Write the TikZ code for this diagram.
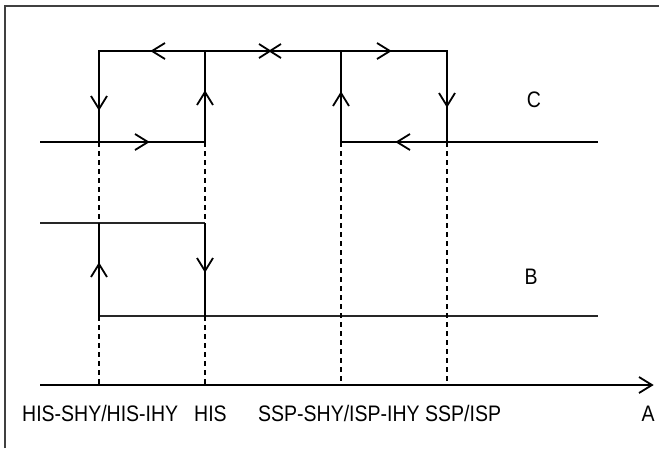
\documentclass[tikz,border=0pt]{standalone}
\usepackage{fontspec}
\usepackage{graphicx}
\setmainfont{Liberation Sans}
% labels are set slightly taller than wide
\newcommand{\tallt}[1]{\scalebox{1}[1.15]{#1}}
\begin{document}
\begin{tikzpicture}[x=1pt,y=-1pt,
  trace/.style={line width=2pt,black},
  thintrace/.style={line width=1.7pt,black!85},
  guide/.style={line width=1.3pt,dash pattern=on 5pt off 4pt},
  frameline/.style={line width=1.6pt,black!75},
  lbl/.style={font=\fontsize{19.5}{21}\selectfont,inner sep=0pt},
  chevR/.pic={\draw[line width=1.8pt] (-13,-8) -- (0,0) -- (-13,8);},
  chevL/.pic={\draw[line width=1.8pt] (13,-8) -- (0,0) -- (13,8);},
  chevU/.pic={\draw[line width=1.8pt] (-8,13) -- (0,0) -- (8,13);},
  chevD/.pic={\draw[line width=1.8pt] (-8,-13) -- (0,0) -- (8,-13);},
  crossmark/.pic={\draw[line width=1.8pt] (-11,-7) -- (11,7) (-11,7) -- (11,-7);}]
\useasboundingbox (0,0) rectangle (659,448);
\fill[white] (0,0) rectangle (659,448);
% frame (top and left edges)
\draw[frameline] (5,448) -- (5,6) -- (659,6);

% threshold positions
\coordinate (p1) at (99,0);
\coordinate (p2) at (205,0);
\coordinate (p3) at (341,0);
\coordinate (p4) at (447,0);

% C levels
\coordinate (cTop) at (0,51);
\coordinate (cLow) at (0,142);
% B levels
\coordinate (bHi) at (0,223);
\coordinate (bLo) at (0,316);
% axis
\coordinate (ax0) at (40,385);
\coordinate (ax1) at (652,385);

% ---- C hysteresis loops ----
\draw[trace] (40,142) -- (p2|-cLow) -- (p2|-cTop);
\draw[trace] (p1|-cLow) -- (p1|-cTop) -- (p4|-cTop) -- (p4|-cLow) -- (598,142);
\draw[trace] (p3|-cTop) -- (p3|-cLow) -- (p4|-cLow);
\pic at (152,51) {chevL};
\pic at (270,51) {crossmark};
\pic at (390,51) {chevR};
\pic at (99,109) {chevD};
\pic at (205,92) {chevU};
\pic at (148,142) {chevR};
\pic at (341,93) {chevU};
\pic at (447,106) {chevD};
\pic at (397,142) {chevL};
\node[lbl,anchor=base] (labC) at (534,107) {\tallt{C}};

% ---- B switching ----
\draw[thintrace] (40,223) -- (p2|-bHi);
\draw[thintrace] (p1|-bLo) -- (598,316);
\draw[trace] (p1|-bLo) -- (p1|-bHi);
\draw[trace] (p2|-bHi) -- (p2|-bLo);
\pic at (99,264) {chevU};
\pic at (205,271) {chevD};
\node[lbl,anchor=base] (labB) at (531,284) {\tallt{B}};

% ---- dashed guides down to the axis ----
\draw[guide] (p1|-cLow) -- (p1|-bHi) (p1|-bLo) -- (p1|-ax0);
\draw[guide] (p2|-cLow) -- (p2|-bHi) (p2|-bLo) -- (p2|-ax0);
\draw[guide] (p3|-cLow) -- (p3|-ax0);
\draw[guide] (p4|-cLow) -- (p4|-ax0);

% ---- axis ----
\draw[trace] (ax0) -- (ax1);
\pic at (ax1) {chevR};
\node[lbl,anchor=base west] (t1) at (22,421) {\tallt{HIS-SHY/HIS-IHY}};
\node[lbl,anchor=base west] (t2) at (194,421) {\tallt{HIS}};
\node[lbl,anchor=base west] (t3) at (258,421) {\tallt{SSP-SHY/ISP-IHY}};
\node[lbl,anchor=base west] (t4) at (425,421) {\tallt{SSP/ISP}};
\node[lbl,anchor=base] (t5) at (648,421) {\tallt{A}};
\end{tikzpicture}
\end{document}
